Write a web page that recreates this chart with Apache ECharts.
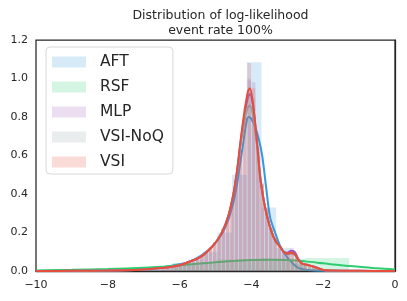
<!DOCTYPE html>
<html>
<head>
<meta charset="utf-8">
<script src="https://cdn.jsdelivr.net/npm/echarts@6/dist/echarts.min.js"></script>
<style>html,body{margin:0;padding:0;background:#fff}#c{width:407px;height:301px}</style>
</head>
<body>
<div id="c"></div>
<script>
// ---- data ----
const seriesNames = ['AFT', 'RSF', 'MLP', 'VSI-NoQ', 'VSI'];
const xTicks = [-10, -8, -6, -4, -2, 0];
const yTicks = [0, 0.2, 0.4, 0.6, 0.8, 1.0, 1.2];

// histograms: first bin edge, bin width, bin heights
const aftHistStart = -7.0, aftHistWidth = 0.41;
const aftHist = [0.01, 0.02, 0.04, 0.06, 0.10, 0.20, 0.50, 1.085, 0.33, 0.12, 0.04, 0.01];
const rsfHistStart = -6.2, rsfHistWidth = 1.23;
const rsfHist = [0.04, 0.06, 0.065, 0.068];
const fineHistStart = -6.52, fineHistWidth = 0.12;
const mlpHist = [0.01,0.02,0.02,0.03,0.03,0.04,0.05,0.05,0.07,0.08,0.10,0.12,0.15,0.18,0.22,0.28,0.36,0.48,0.63,0.82,1.00,0.98,0.64,0.46,0.33,0.22,0.17,0.13,0.10,0.10,0.12,0.08,0.05,0.03,0.03,0.02,0.01,0.01];
const noqHist = [0.01,0.02,0.02,0.03,0.03,0.04,0.05,0.06,0.07,0.08,0.10,0.12,0.15,0.17,0.22,0.27,0.35,0.46,0.60,0.85,0.99,0.90,0.62,0.45,0.32,0.23,0.17,0.13,0.10,0.09,0.09,0.07,0.04,0.03,0.03,0.02,0.01,0.01];
const vsiHist = [0.01,0.02,0.02,0.03,0.03,0.04,0.05,0.05,0.07,0.08,0.10,0.12,0.15,0.17,0.22,0.27,0.35,0.47,0.62,0.80,1.08,0.95,0.62,0.45,0.32,0.22,0.17,0.13,0.10,0.09,0.10,0.07,0.04,0.03,0.03,0.02,0.01,0.01];

// KDE curves: [x, density]
const aftKde = [[-10,0],[-9,0.001],[-8,0.004],[-7.5,0.008],[-7,0.013],[-6.5,0.02],[-6,0.035],[-5.7,0.05],[-5.4,0.08],[-5.1,0.125],[-4.8,0.2],[-4.6,0.29],[-4.45,0.4],[-4.32,0.55],[-4.2,0.7],[-4.13,0.78],[-4.08,0.80],[-4.0,0.79],[-3.9,0.75],[-3.8,0.69],[-3.7,0.6],[-3.6,0.45],[-3.48,0.28],[-3.34,0.2],[-3.2,0.13],[-3.0,0.07],[-2.85,0.04],[-2.73,0.02],[-2.6,0.01],[-2.45,0.005],[-2,0.001],[0,0]];
const rsfKde = [[-10,0.003],[-9,0.006],[-8,0.01],[-7,0.017],[-6.5,0.022],[-6,0.03],[-5.5,0.038],[-5,0.046],[-4.5,0.052],[-4,0.057],[-3.5,0.058],[-3,0.057],[-2.5,0.05],[-2,0.04],[-1.5,0.03],[-1,0.022],[-0.5,0.014],[0,0.008]];
const mlpKde = [[-10,0],[-9,0.001],[-8,0.002],[-7.5,0.004],[-7,0.008],[-6.5,0.015],[-6,0.03],[-5.7,0.05],[-5.4,0.075],[-5.1,0.125],[-4.95,0.16],[-4.82,0.2],[-4.65,0.28],[-4.5,0.4],[-4.4,0.52],[-4.3,0.67],[-4.2,0.8],[-4.1,0.9],[-4.04,0.92],[-3.95,0.85],[-3.85,0.68],[-3.75,0.48],[-3.65,0.36],[-3.57,0.29],[-3.45,0.21],[-3.34,0.16],[-3.2,0.125],[-3.1,0.1],[-3.0,0.095],[-2.9,0.105],[-2.8,0.1],[-2.7,0.065],[-2.6,0.04],[-2.45,0.032],[-2.3,0.025],[-2.15,0.015],[-2.0,0.005],[-1.8,0.002],[-1,0.001],[0,0]];
const noqKde = [[-10,0],[-9,0.001],[-8,0.002],[-7.5,0.004],[-7,0.008],[-6.5,0.015],[-6,0.03],[-5.7,0.05],[-5.4,0.075],[-5.1,0.125],[-4.95,0.16],[-4.82,0.2],[-4.65,0.28],[-4.5,0.4],[-4.4,0.51],[-4.3,0.65],[-4.2,0.77],[-4.1,0.85],[-4.04,0.86],[-3.95,0.8],[-3.85,0.66],[-3.75,0.48],[-3.65,0.36],[-3.57,0.29],[-3.45,0.21],[-3.34,0.16],[-3.2,0.125],[-3.1,0.1],[-3.0,0.09],[-2.9,0.09],[-2.8,0.085],[-2.7,0.06],[-2.6,0.04],[-2.45,0.032],[-2.3,0.025],[-2.15,0.015],[-2.0,0.005],[-1.8,0.002],[-1,0.001],[0,0]];
const vsiKde = [[-10,0],[-9,0.001],[-8,0.002],[-7.5,0.004],[-7,0.008],[-6.5,0.015],[-6,0.03],[-5.7,0.05],[-5.4,0.075],[-5.1,0.125],[-4.95,0.16],[-4.82,0.2],[-4.65,0.28],[-4.5,0.4],[-4.4,0.52],[-4.3,0.68],[-4.2,0.82],[-4.1,0.93],[-4.04,0.95],[-3.95,0.86],[-3.85,0.68],[-3.75,0.48],[-3.65,0.36],[-3.57,0.29],[-3.45,0.21],[-3.34,0.16],[-3.2,0.125],[-3.1,0.1],[-3.0,0.09],[-2.9,0.095],[-2.8,0.09],[-2.7,0.06],[-2.6,0.04],[-2.45,0.032],[-2.3,0.025],[-2.15,0.015],[-2.0,0.005],[-1.8,0.002],[-1,0.001],[0,0]];

// ---- styling ----
const colors = ['#3498db', '#2ecc71', '#9b59b6', '#95a5a6', '#e74c3c'];
function rgba(hex, a) {
  const n = parseInt(hex.slice(1), 16);
  return 'rgba(' + (n >> 16) + ',' + ((n >> 8) & 255) + ',' + (n & 255) + ',' + a + ')';
}
function binsOf(start, width, heights) {
  return heights.map((h, i) => [start + i * width, start + (i + 1) * width, h]);
}
const hists = [
  binsOf(aftHistStart, aftHistWidth, aftHist),
  binsOf(rsfHistStart, rsfHistWidth, rsfHist),
  binsOf(fineHistStart, fineHistWidth, mlpHist),
  binsOf(fineHistStart, fineHistWidth, noqHist),
  binsOf(fineHistStart, fineHistWidth, vsiHist)
];
const kdes = [aftKde, rsfKde, mlpKde, noqKde, vsiKde];

const series = [];
seriesNames.forEach((name, i) => {
  const fill = rgba(colors[i], 0.2);
  series.push({
    name: name,
    type: 'custom',
    itemStyle: { color: fill },
    data: hists[i],
    encode: { x: [0, 1], y: 2 },
    renderItem: function (params, api) {
      const p0 = api.coord([api.value(0), api.value(2)]);
      const p1 = api.coord([api.value(1), 0]);
      const w = p1[0] - p0[0];
      const gap = w > 8 ? 0 : 0.7;
      return {
        type: 'rect',
        shape: { x: p0[0] + gap / 2, y: p0[1], width: w - gap, height: p1[1] - p0[1] },
        style: { fill: fill }
      };
    },
    z: 2 + i * 2
  });
  series.push({
    name: name + ' kde',
    type: 'line',
    data: kdes[i],
    smooth: 0.3,
    showSymbol: false,
    lineStyle: { color: colors[i], width: 2 },
    itemStyle: { color: colors[i] },
    z: 3 + i * 2
  });
});

const chart = echarts.init(document.getElementById('c'), null, { renderer: 'canvas' });
const fmtMinus = v => String(v).replace('-', '\u2212');
chart.setOption({
  animation: false,
  backgroundColor: '#fff',
  textStyle: { fontFamily: 'DejaVu Sans' },
  title: {
    text: 'Distribution of log-likelihood\nevent rate 100%',
    left: 215.5, top: 3, textAlign: 'center',
    textStyle: { fontFamily: 'DejaVu Sans', fontSize: 12.5, fontWeight: 'normal', color: '#262626', lineHeight: 15 }
  },
  grid: { left: 36, right: 12, top: 40, bottom: 30, show: true, borderColor: '#262626', borderWidth: 1.25, backgroundColor: 'transparent' },
  legend: {
    orient: 'vertical', left: 46, top: 47,
    data: seriesNames.map((n, i) => ({ name: n, icon: 'rect', itemStyle: { color: rgba(colors[i], 0.2) } })),
    itemWidth: 34, itemHeight: 11, itemGap: 7,
    padding: [6, 9, 3, 6],
    borderColor: '#d8d8d8', borderWidth: 1, borderRadius: 4,
    backgroundColor: 'rgba(255,255,255,0.8)',
    textStyle: { fontFamily: 'DejaVu Sans', fontSize: 15.5, color: '#262626', lineHeight: 18, padding: [0, 0, 0, 9] },
    selectedMode: false
  },
  xAxis: {
    type: 'value', min: -10, max: 0, interval: 2,
    axisLine: { show: true, lineStyle: { color: '#262626', width: 1.25 } },
    axisTick: { show: false }, splitLine: { show: false },
    axisLabel: { fontFamily: 'DejaVu Sans', fontSize: 11, color: '#262626', margin: 9, formatter: v => fmtMinus(v) }
  },
  yAxis: {
    type: 'value', min: 0, max: 1.2, interval: 0.2,
    axisLine: { show: true, lineStyle: { color: '#262626', width: 1.25 } },
    axisTick: { show: false }, splitLine: { show: false },
    axisLabel: { fontFamily: 'DejaVu Sans', fontSize: 11, color: '#262626', margin: 8, formatter: v => v.toFixed(1) }
  },
  series: series
});
</script>
</body>
</html>
